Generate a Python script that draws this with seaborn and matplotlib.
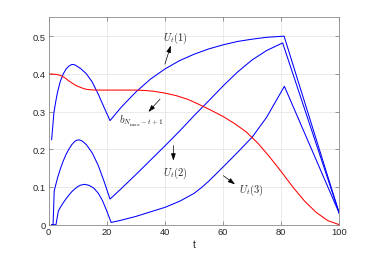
import matplotlib
matplotlib.use("Agg")
import matplotlib.pyplot as plt
import seaborn as sns
import pandas as pd

# values
t_u1 = [1, 1.8, 2.5, 3, 3.9, 5, 6, 7, 8, 9, 11, 13, 15, 17, 19, 21.1,
        25, 30, 35, 40, 45, 50, 55, 60, 65, 70, 75, 81, 100]
u1 = [0.225, 0.298, 0.33, 0.35, 0.378, 0.4, 0.413, 0.421, 0.425, 0.424, 0.414, 0.4, 0.378, 0.347, 0.312, 0.276,
      0.312, 0.352, 0.386, 0.413, 0.435, 0.452, 0.466, 0.477, 0.486, 0.492, 0.497, 0.5, 0.03]

t_u2 = [1, 1.5, 1.9, 2.5, 3, 4, 5, 6, 7, 8, 9, 9.6, 10.5, 11.5, 13, 15, 17, 19, 21.1,
        25, 30, 35, 40, 45, 50, 55, 60, 65, 70, 75, 80.5, 100]
u2 = [0, 0, 0.09, 0.108, 0.123, 0.148, 0.169, 0.187, 0.201, 0.213, 0.221, 0.224, 0.225, 0.222, 0.212, 0.19,
      0.158, 0.116, 0.068,
      0.096, 0.133, 0.171, 0.209, 0.248, 0.289, 0.328, 0.368, 0.405, 0.437, 0.462, 0.482, 0.03]

t_u3 = [1, 2.5, 3.3, 4, 5, 6, 7, 8, 9, 10, 11, 12.5, 14, 15.5, 17, 18.5, 20, 21.5,
        25, 30, 35, 40, 45, 50, 52.5, 55, 57.5, 60, 65, 70, 75, 81.1, 100]
u3 = [0, 0, 0.036, 0.046, 0.058, 0.069, 0.079, 0.088, 0.095, 0.101, 0.105, 0.107, 0.104, 0.097, 0.084, 0.064,
      0.036, 0.006,
      0.012, 0.022, 0.034, 0.046, 0.062, 0.083, 0.098, 0.115, 0.134, 0.153, 0.192, 0.232, 0.285, 0.367, 0.03]

t_b = [0, 2, 3, 4, 5, 6, 7, 8, 9, 10, 11, 12, 13, 14, 16, 30, 33, 36, 40, 44, 48, 52, 56, 60, 64, 68, 72, 76, 80,
       84, 88, 92, 96, 100]
b = [0.4, 0.399, 0.398, 0.396, 0.392, 0.387, 0.381, 0.376, 0.371, 0.367, 0.364, 0.361, 0.359, 0.358, 0.357, 0.357,
     0.356, 0.354, 0.349, 0.342, 0.332, 0.318, 0.303, 0.287, 0.268, 0.246, 0.216, 0.18, 0.141, 0.1, 0.063, 0.033,
     0.011, 0.0]

x_ticks = [0, 20, 40, 60, 80, 100]
y_ticks = [0, 0.1, 0.2, 0.3, 0.4, 0.5]

sns.set_theme(style="ticks")
plt.rcParams["font.family"] = ["Liberation Sans", "DejaVu Sans"]
plt.rcParams["mathtext.fontset"] = "cm"

fig = plt.figure(figsize=(3.75, 2.55), dpi=100)
ax = fig.add_axes([0.1299, 0.1149, 0.7749, 0.8133])

for tt, vv, col in [(t_u1, u1, "#0000ff"), (t_u2, u2, "#0000ff"), (t_u3, u3, "#0000ff"), (t_b, b, "#ff0000")]:
    d = pd.DataFrame({"t": tt, "v": vv})
    sns.lineplot(data=d, x="t", y="v", color=col, lw=0.75, ax=ax, sort=False, estimator=None)

ax.set_xlim(0, 100)
ax.set_ylim(0, 0.55)
ax.set_xticks(x_ticks)
ax.set_xticklabels([str(x) for x in x_ticks])
ax.set_yticks(y_ticks)
ax.set_yticklabels(["0", "0.1", "0.2", "0.3", "0.4", "0.5"])
ax.grid(True, color="#e6e6e6", lw=0.6)
ax.set_axisbelow(True)
ax.tick_params(direction="in", length=3, width=0.5, colors="#707070", labelcolor="#262626",
               labelsize=6.7, top=True, right=True, pad=2)
for s in ax.spines.values():
    s.set_color("#8a8a8a")
    s.set_linewidth(0.6)
ax.set_xlabel("t", fontsize=7.5, color="#262626", labelpad=2)
ax.set_ylabel("")

arrow = dict(arrowstyle="-|>,head_length=0.6,head_width=0.2", color="black", lw=0.5,
             shrinkA=0, shrinkB=0, mutation_scale=7)
notes = [
    ("$U_t(1)$", (43.5, 0.497), (40, 0.426), (42, 0.475)),
    ("$b_{N_{\\max}-t+1}$", (32, 0.280), (38.3, 0.333), (34.3, 0.299)),
    ("$U_t(2)$", (43.5, 0.139), (42.9, 0.21), (42.9, 0.17)),
    ("$U_t(3)$", (69.8, 0.095), (60.1, 0.130), (64.1, 0.107)),
]
for label, pos, tail, head in notes:
    ax.annotate("", xy=head, xytext=tail, arrowprops=arrow)
    ax.text(pos[0], pos[1], label, fontsize=7.5, ha="center", va="center", color="#262626")

fig.savefig("out.png", dpi=100)
